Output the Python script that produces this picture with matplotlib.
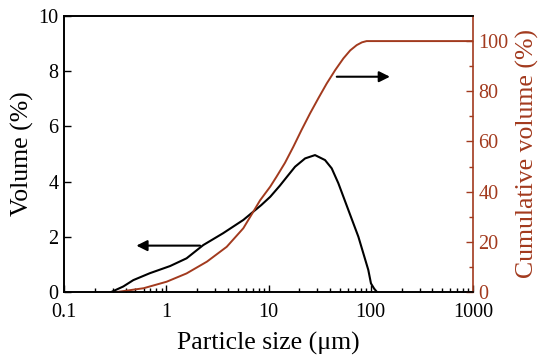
import matplotlib
matplotlib.use("Agg")
import matplotlib.pyplot as plt
from matplotlib.ticker import FixedLocator, NullFormatter, LogLocator

# Data
size_vol = [0.29, 0.38, 0.476, 0.69, 1.09, 1.58, 2.3, 3.6, 5.67, 7.1, 8.5, 10.4, 12.9,
            15.5, 18.2, 22.8, 28.5, 35.7, 41.5, 48.2, 60.4, 75.7, 94.6, 100.5, 108, 115]
volume = [0, 0.2, 0.43, 0.68, 0.94, 1.22, 1.70, 2.13, 2.61, 2.91, 3.15, 3.45, 3.85,
          4.22, 4.54, 4.84, 4.96, 4.78, 4.48, 3.94, 2.97, 2.0, 0.80, 0.31, 0.12, 0.0]

size_cum = [0.33, 0.6, 1.01, 1.58, 2.5, 3.9, 5.67, 7.1, 8.26, 10.4, 12.0, 14.5, 17.5, 21,
            25.5, 31, 37.1, 45, 54, 63, 72.9, 82, 91, 100, 1000]
cumulative = [0, 1.5, 4.1, 7.4, 12.1, 18, 25.4, 32, 36.5, 42, 46, 51.5, 57.9, 64.5,
              71.2, 77.5, 83.1, 88.5, 93.1, 96.3, 98.4, 99.5, 100, 100, 100]

x_ticks = [0.1, 1, 10, 100, 1000]
x_tick_labels = ["0.1", "1", "10", "100", "1000"]
left_ticks = [0, 2, 4, 6, 8, 10]
right_ticks = [0, 20, 40, 60, 80, 100]

RED = "#A23A1E"
plt.rcParams["font.family"] = ["Liberation Serif", "DejaVu Serif"]

fig = plt.figure(figsize=(5.5, 3.62), dpi=100)
ax = fig.add_axes([0.1164, 0.1934, 0.7436, 0.7624])
ax2 = ax.twinx()

ax.plot(size_vol, volume, color="black", lw=1.5, zorder=3)
ax2.plot(size_cum, cumulative, color=RED, lw=1.4, zorder=2)

ax.set_xscale("log")
ax.set_xlim(0.1, 1000)
ax.set_ylim(0, 10)
ax2.set_ylim(0, 110)

ax.xaxis.set_major_locator(FixedLocator(x_ticks))
ax.set_xticklabels(x_tick_labels)
ax.xaxis.set_minor_locator(LogLocator(base=10, subs=range(2, 10), numticks=20))
ax.xaxis.set_minor_formatter(NullFormatter())
ax.set_yticks(left_ticks)
ax2.set_yticks(right_ticks)
ax2.set_yticks([10, 30, 50, 70, 90], minor=True)

ax.tick_params(axis="y", which="major", direction="in", length=5, width=1,
               labelsize=14.5, pad=4)
ax.tick_params(axis="x", which="major", direction="in", length=5, width=1,
               labelsize=14.5, pad=8)
ax.tick_params(axis="x", which="minor", direction="in", length=3, width=1)
ax.tick_params(axis="y", which="both", right=False)
ax.tick_params(axis="x", top=False, which="both")
ax2.tick_params(axis="y", which="major", direction="in", length=5, width=1,
                colors=RED, labelsize=14.5, pad=4)
ax2.tick_params(axis="y", which="minor", direction="in", length=3, width=1, colors=RED)

for s in ["left", "bottom", "top"]:
    ax.spines[s].set_linewidth(1.2)
    ax2.spines[s].set_linewidth(1.2)
ax2.spines["right"].set_color(RED)
ax2.spines["right"].set_linewidth(1.2)
ax.spines["right"].set_visible(False)

ax.set_xlabel("Particle size (\u03bcm)", fontsize=18.5, labelpad=7)
ax.set_ylabel("Volume (%)", fontsize=18.5, labelpad=3)
ax2.set_ylabel("Cumulative volume (%)", fontsize=18.5, color=RED, labelpad=5)

# Arrows
ax.annotate("", xy=(0.51, 1.68), xytext=(2.14, 1.68),
            arrowprops=dict(arrowstyle="-|>", color="black", lw=1.5,
                            mutation_scale=16, shrinkA=0, shrinkB=0))
ax.annotate("", xy=(154, 7.8), xytext=(46.5, 7.8),
            arrowprops=dict(arrowstyle="-|>", color="black", lw=1.5,
                            mutation_scale=16, shrinkA=0, shrinkB=0))

fig.savefig("out.png", dpi=100)
